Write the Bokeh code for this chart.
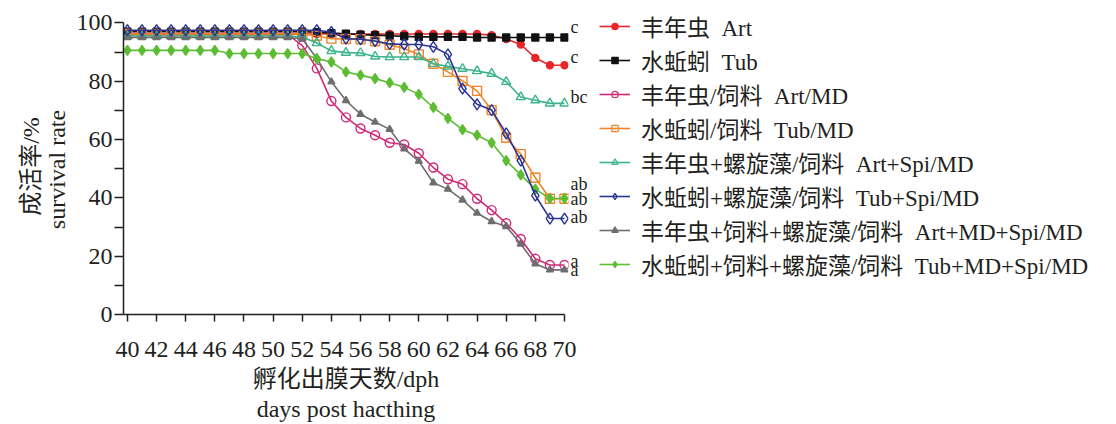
from bokeh.plotting import figure
from bokeh.models import Legend, LegendItem, FixedTicker, Range1d, LinearAxis
from bokeh.layouts import row
from bokeh.embed import file_html
from bokeh.resources import INLINE

FONT = "Liberation Serif, Noto Sans CJK SC"
INK = "#231f20"

days = list(range(40, 71))

art = [96.2] * 25 + [95.8, 94.5, 92.6, 88.0, 85.5, 85.5]
tub = [97.0] * 13 + [96.8, 96.5, 96.3, 96.0, 95.8, 95.6, 95.4, 95.2, 95.2, 95.2, 95.2] + [95.0] * 7
art_md = [96.0] * 12 + [92.3, 84.4, 73.2, 67.6, 63.8, 61.5, 58.9, 58.3, 55.3, 50.4, 46.4,
                        44.7, 39.7, 35.8, 31.3, 25.9, 19.1, 17.0, 17.0]
tub_md = [96.2] * 13 + [95.6, 94.6, 94.5, 94.4, 93.7, 92.5, 91.2, 89.2, 86.0, 83.2, 80.1,
                        76.7, 70.1, 60.6, 55.0, 46.9, 39.7, 39.7]
art_spi_md = [95.5] * 12 + [95.2, 93.1, 90.4, 89.8, 89.7, 88.5, 88.3, 88.3, 88.3, 86.0, 85.1,
                            84.3, 83.5, 82.6, 79.8, 74.6, 73.5, 72.4, 72.4]
tub_spi_md = [97.5] * 14 + [96.9, 94.6, 94.4, 93.8, 92.8, 92.6, 92.6, 91.8, 89.2, 77.5, 72.1,
                            70.1, 62.1, 52.8, 40.8, 32.9, 32.9]
art_md_spi_md = [95.0] * 12 + [94.6, 87.8, 79.8, 73.4, 68.7, 66.0, 63.5, 56.8, 52.6, 45.2, 43.0,
                               39.3, 34.8, 31.9, 30.2, 24.2, 17.4, 15.3, 15.3]
tub_md_spi_md = [90.6] * 7 + [89.5] * 6 + [87.8, 86.6, 83.2, 82.1, 80.9, 79.5, 77.9, 75.5, 71.0,
                                          67.3, 63.4, 61.5, 58.9, 52.8, 47.9, 43.0, 39.8, 39.8]

labels = [
    "丰年虫  Art",
    "水蚯蚓  Tub",
    "丰年虫/饲料  Art/MD",
    "水蚯蚓/饲料  Tub/MD",
    "丰年虫+螺旋藻/饲料  Art+Spi/MD",
    "水蚯蚓+螺旋藻/饲料  Tub+Spi/MD",
    "丰年虫+饲料+螺旋藻/饲料  Art+MD+Spi/MD",
    "水蚯蚓+饲料+螺旋藻/饲料  Tub+MD+Spi/MD",
]
values = [art, tub, art_md, tub_md, art_spi_md, tub_spi_md, art_md_spi_md, tub_md_spi_md]
letters = ["c", "c", "a", "ab", "bc", "ab", "a", "ab"]
x_ticks = list(range(40, 71, 2))
y_ticks = [0, 20, 40, 60, 80, 100]
y_minor = [10, 30, 50, 70, 90]

colors = ["#e8262a", "#111111", "#cf2a76", "#f08428", "#3bb38c", "#283593", "#6e6e70", "#5cbd33"]
markers = ["circle", "square", "circle", "square", "triangle", "diamond", "triangle", "diamond"]
sizes = [7, 7, 9, 9, 9, 11, 7, 10]
filled = [True, True, False, False, False, False, True, True]
letter_dy = [2.7, 3.5, 1.5, 0.0, 2.1, 0.6, 0.0, 5.0]

# ---------------- main plot ----------------
X0, X1 = 39.73, 70.277
p = figure(width=590, height=424, x_range=Range1d(X0, X1), y_range=Range1d(0, 107.69),
           output_backend="svg", toolbar_location=None,
           min_border_left=123, min_border_right=20, min_border_top=0, min_border_bottom=109)
p.background_fill_color = "white"
p.border_fill_color = "white"
p.outline_line_color = None
p.grid.visible = False

draw_order = [0, 1, 2, 3, 4, 6, 7, 5]
for i in draw_order:
    c = colors[i]
    p.line(days, values[i], line_color=c, line_width=1.6)
    p.scatter(days, values[i], marker=markers[i], size=sizes[i], line_color=c,
              line_width=1.4, fill_color=c if filled[i] else None)

# significance letters: a right-hand axis whose tick labels are the letters
letter_pos = [round(values[i][-1] + letter_dy[i], 2) for i in range(8)]
raxis = LinearAxis(ticker=FixedTicker(ticks=letter_pos),
                   major_label_overrides={letter_pos[i]: letters[i] for i in range(8)})
raxis.axis_line_color = None
raxis.major_tick_line_color = None
raxis.minor_tick_line_color = None
raxis.major_tick_out = 0
raxis.major_tick_in = 0
raxis.major_label_standoff = 2
raxis.major_label_text_font = FONT
raxis.major_label_text_font_size = "18px"
raxis.major_label_text_color = INK
p.add_layout(raxis, "right")

for ax in (p.xaxis[0], p.yaxis[0]):
    ax.axis_line_color = INK
    ax.axis_line_width = 1.5
    ax.major_tick_line_color = INK
    ax.major_tick_line_width = 1.5
    ax.minor_tick_line_color = INK
    ax.minor_tick_line_width = 1.5
    ax.major_tick_in = 0
    ax.minor_tick_in = 0
    ax.major_label_text_font = FONT
    ax.major_label_text_font_size = "24px"
    ax.major_label_text_color = INK
    ax.axis_label_text_font = FONT
    ax.axis_label_text_font_size = "24px"
    ax.axis_label_text_font_style = "normal"
    ax.axis_label_text_color = INK

xa = p.xaxis[0]
xa.ticker = FixedTicker(ticks=x_ticks)
xa.bounds = (X0, 70)
xa.major_tick_out = 7
xa.minor_tick_out = 0
xa.major_label_standoff = 20
xa.axis_label = "孵化出膜天数/dph\ndays post hacthing"
xa.axis_label_standoff = 6
xa.axis_label_text_line_height = 1.17

ya = p.yaxis[0]
ya.ticker = FixedTicker(ticks=y_ticks, minor_ticks=y_minor)
ya.bounds = (0, 100)
ya.major_tick_out = 9
ya.minor_tick_out = 9
ya.major_label_standoff = 2
ya.axis_label = "成活率/%\u00a0\u00a0\u00a0\nsurvival rate\u00a0\u00a0\u00a0\u00a0"
ya.axis_label_standoff = 4
ya.axis_label_text_line_height = 1.0

# ---------------- legend panel ----------------
q = figure(width=526, height=424, x_range=Range1d(0, 1), y_range=Range1d(0, 1),
           output_backend="svg", toolbar_location=None, x_axis_type=None, y_axis_type=None,
           min_border=0)
q.outline_line_color = None
q.grid.visible = False
q.background_fill_color = "white"
q.border_fill_color = "white"

items = []
for i in range(8):
    c = colors[i]
    # same data; this panel's ranges keep the marks out of view, only the legend shows
    lr = q.line(days, values[i], line_color=c, line_width=1.6)
    sr = q.scatter(days, values[i], marker=markers[i], size=7, line_color=c,
                   line_width=1.2, fill_color=c if filled[i] else None)
    items.append(LegendItem(label=labels[i], renderers=[lr, sr]))

legend = Legend(items=items, location="top_left", orientation="vertical")
legend.label_text_font = FONT
legend.label_text_font_size = "23px"
legend.label_text_color = INK
legend.glyph_width = 31
legend.glyph_height = 16
legend.label_height = 16
legend.spacing = 0
legend.padding = 0
legend.margin = 9
legend.label_standoff = 11
legend.border_line_color = None
legend.background_fill_alpha = 0
q.add_layout(legend)

open("out.html", "w").write(file_html(row(p, q), INLINE))
